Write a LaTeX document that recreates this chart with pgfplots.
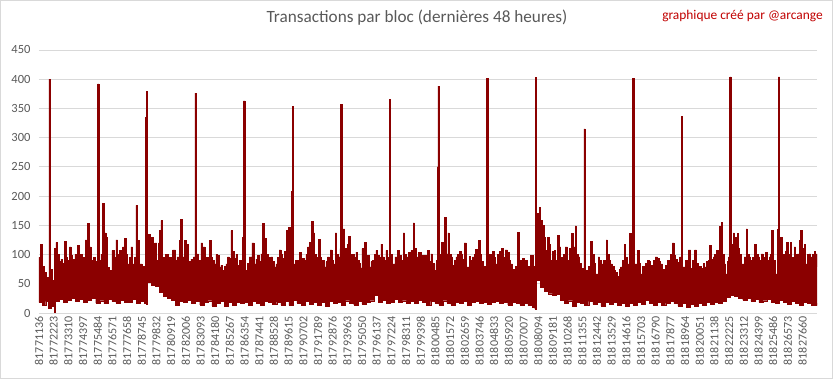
\documentclass[border=0pt]{standalone}
\usepackage{pgfplots}
\pgfplotsset{compat=1.18}
\usepackage{pgfplotstable}
\usepgfplotslibrary{fillbetween}
\usepackage{fontspec}
\setmainfont{Carlito}
\definecolor{barred}{RGB}{139,0,0}
\definecolor{txtgray}{RGB}{89,89,89}
\definecolor{gridgray}{RGB}{217,217,217}
\definecolor{notered}{RGB}{192,0,0}

\pgfplotstableread{
x y
0 95
99 117
222 80
370 70
518 61
666 60
740 400
840 75
1012 56
1135 110
1258 121
1382 100
1505 88
1628 92
1752 85
1875 122
1998 95
2122 90
2245 113
2368 98
2492 92
2664 100
2862 115
2985 100
3182 88
3306 95
3429 125
3528 110
3602 153
3725 113
3848 90
4021 95
4169 88
4340 392
4440 90
4589 100
4712 188
4835 137
4958 130
5082 78
5205 73
5403 107
5575 95
5699 125
5822 100
5945 107
6069 95
6192 113
6315 127
6439 100
6562 84
6686 95
6809 113
6932 84
7056 95
7179 184
7302 124
7425 84
7623 80
7796 67
7890 335
7940 379
8040 135
8215 120
8338 130
8462 113
8560 120
8708 90
8832 120
8930 141
9029 158
9153 95
9350 100
9595 95
9768 88
9891 108
10089 90
10212 96
10385 124
10459 160
10582 96
10755 124
10928 118
11076 88
11248 92
11421 96
11540 376
11640 101
11800 90
11988 120
12112 113
12284 84
12408 95
12605 124
12728 95
12852 90
12975 84
13099 100
13222 98
13345 79
13469 82
13592 73
13715 80
13839 84
13962 96
14085 93
14209 141
14332 105
14455 93
14579 100
14702 81
14825 90
14949 79
15072 130
15140 363
15240 73
15442 85
15565 96
15763 120
15936 84
16059 92
16182 99
16306 88
16429 101
16552 153
16651 110
16725 127
16848 100
16996 95
17169 96
17292 88
17416 79
17539 84
17662 95
17786 108
17909 100
18032 93
18180 105
18328 141
18476 147
18575 130
18640 90
18680 208
18740 354
18840 84
19000 90
19142 90
19265 103
19388 88
19511 93
19635 90
19758 100
19881 113
20005 121
20153 157
20301 137
20400 100
20498 84
20597 95
20696 126
20794 95
20868 84
20992 90
21115 79
21238 88
21362 96
21485 92
21559 108
21682 90
21806 84
21929 137
22028 100
22126 96
22274 110
22340 357
22440 100
22521 144
22620 110
22718 104
22842 118
22916 131
23015 100
23113 90
23212 100
23335 95
23459 104
23582 90
23705 85
23804 77
23903 110
24075 121
24199 98
24322 99
24445 79
24569 88
24692 90
24815 100
24939 107
25062 99
25185 95
25309 118
25432 96
25555 90
25679 107
25802 95
25940 365
26040 100
26172 84
26345 96
26542 107
26666 98
26789 90
26962 137
27060 100
27159 96
27356 104
27529 107
27628 100
27702 154
27800 110
27899 96
28096 104
28269 90
28392 98
28516 99
28639 90
28761 107
28885 88
29008 101
29131 85
29255 73
29378 84
29430 90
29480 250
29540 388
29640 100
29797 121
29896 95
29995 164
30118 101
30266 137
30365 100
30488 96
30612 81
30735 90
30858 96
30982 100
31105 105
31228 101
31352 92
31475 120
31648 79
31845 97
31968 90
32092 96
32215 100
32338 109
32511 124
32635 100
32758 88
32881 80
33005 62
33140 402
33240 100
33449 92
33572 105
33695 95
33819 84
33942 100
34065 105
34263 110
34386 95
34509 108
34682 104
34805 90
34929 84
35052 75
35175 67
35299 80
35422 138
35595 90
35792 93
35916 85
36039 90
36162 80
36286 67
36409 99
36582 73
36680 80
36740 403
36840 170
37026 181
37149 158
37273 150
37396 130
37519 107
37643 130
37766 118
37889 90
38013 105
38136 107
38259 90
38381 133
38505 113
38628 95
38751 84
38850 100
38949 113
39121 90
39245 110
39393 136
39541 113
39689 149
39787 100
39911 96
40034 85
40158 76
40340 315
40440 73
40651 80
40725 67
40848 122
40972 100
41095 85
41218 67
41391 96
41514 90
41638 84
41786 90
41983 125
42082 100
42205 90
42329 84
42452 80
42575 73
42699 70
42822 62
42945 75
43069 79
43192 90
43315 118
43439 95
43562 84
43735 136
43858 76
43940 401
44040 84
44302 107
44425 85
44549 67
44672 80
44795 62
44919 85
45042 90
45165 88
45289 81
45461 90
45609 96
45782 93
45906 88
46029 84
46152 75
46276 67
46399 81
46522 90
46646 87
46769 100
46892 120
47016 99
47139 92
47262 87
47435 96
47540 336
47640 79
47879 90
48075 108
48248 76
48371 90
48544 108
48667 85
48791 73
48914 80
49037 76
49161 85
49284 79
49407 88
49531 90
49654 115
49778 92
49901 96
50024 100
50148 107
50345 148
50419 100
50493 155
50592 100
50715 84
50838 67
50962 88
51036 96
51140 404
51240 118
51406 137
51480 110
51529 130
51628 105
51702 136
51801 110
51875 100
52022 84
52195 96
52343 144
52442 100
52565 96
52689 90
52812 95
52985 117
53108 100
53231 96
53355 90
53478 101
53601 84
53725 95
53799 104
53922 90
54045 96
54169 100
54243 141
54366 90
54539 67
54687 143
54740 404
54840 130
55032 100
55156 90
55279 105
55353 121
55476 100
55600 121
55723 95
55822 84
55896 113
56019 100
56142 101
56266 124
56389 141
56512 110
56636 118
56759 84
56882 100
57006 101
57129 96
57252 100
57376 105
57499 101
57600 79
}\hidata

\pgfplotstableread{
x y
0 18
250 14
500 20
700 8
900 12
1150 0
1200 20
1500 24
1800 18
2100 22
2400 25
2700 20
3000 24
3300 19
3600 22
3900 25
4200 17
4500 21
4800 16
5100 23
5400 20
5700 17
6000 22
6300 19
6600 18
6900 23
7200 17
7500 20
7800 16
7950 15
8000 52
8300 48
8600 45
8900 35
9200 28
9500 25
9800 22
10100 13
10400 20
10700 18
11000 22
11300 17
11600 20
11900 14
12200 19
12500 21
12800 12
13100 17
13400 20
13700 12
14000 18
14300 14
14600 19
14900 16
15200 18
15500 13
15800 20
16100 17
16400 14
16700 20
17000 18
17300 15
17600 19
17900 14
18200 20
18500 13
18800 22
19100 17
19400 13
19700 20
20000 15
20300 19
20600 13
20900 18
21200 12
21500 20
21800 16
22100 19
22400 14
22700 21
23000 17
23300 14
23600 20
23900 15
24200 18
24500 21
24800 30
25100 18
25400 22
25700 17
26000 19
26300 24
26600 18
26900 21
27200 16
27500 20
27800 17
28100 22
28400 18
28700 13
29000 20
29300 17
29600 14
29900 21
30200 17
30500 14
30800 19
31100 16
31400 20
31700 14
32000 18
32300 20
32600 16
32900 19
33200 15
33500 18
33800 20
34100 16
34400 18
34700 14
35000 19
35300 17
35600 14
35900 16
36200 13
36500 10
36700 7
36800 56
37100 44
37400 38
37700 33
38000 30
38300 32
38600 22
38900 16
39200 21
39500 12
39800 19
40100 16
40400 13
40700 20
41000 15
41300 18
41600 12
41900 19
42200 15
42500 18
42800 13
43100 17
43400 12
43700 17
44000 14
44300 19
44600 15
44900 22
45200 17
45500 14
45800 19
46100 13
46400 17
46700 20
47000 16
47300 12
47600 17
47900 10
48200 15
48500 12
48800 17
49100 13
49400 18
49700 15
50000 19
50300 16
50600 20
50900 27
51200 30
51500 28
51800 25
52100 22
52400 26
52700 20
53000 23
53300 18
53600 21
53900 24
54200 19
54500 17
54800 22
55100 18
55400 15
55700 20
56000 17
56300 14
56600 19
56900 16
57200 13
57600 17
}\lodata

\begin{document}
\begin{tikzpicture}
\begin{axis}[
  at={(0pt,0pt)}, anchor=south west,
  scale only axis, width=778pt, height=263pt,
  xmin=0, xmax=57600, ymin=0, ymax=450,
  ytick={0,50,...,450},
  scaled x ticks=false, scaled y ticks=false,
  xtick={0,1087,...,56524},
  xticklabels={81771136,81772223,81773310,81774397,81775484,81776571,81777658,81778745,81779832,81780919,81782006,81783093,81784180,81785267,81786354,81787441,81788528,81789615,81790702,81791789,81792876,81793963,81795050,81796137,81797224,81798311,81799398,81800485,81801572,81802659,81803746,81804833,81805920,81807007,81808094,81809181,81810268,81811355,81812442,81813529,81814616,81815703,81816790,81817877,81818964,81820051,81821138,81822225,81823312,81824399,81825486,81826573,81827660},
  xticklabel style={rotate=90, anchor=east, font=\fontsize{12}{12}\selectfont, text=txtgray},
  yticklabel style={anchor=east, xshift=-5pt, font=\fontsize{12.5}{12.5}\selectfont, text=txtgray},
  /pgf/number format/assume math mode=true,
  axis line style={draw=none},
  major tick length=0pt,
  ymajorgrids, grid style={gridgray, line width=0.75pt},
]
\addplot[name path=hi, const plot, barred, line width=0.6pt] table {\hidata};
\addplot[name path=lo, const plot, barred, line width=0.4pt] table {\lodata};
\addplot[barred] fill between[of=hi and lo];
\end{axis}
\node[text=txtgray, font=\fontsize{17.2}{19}\selectfont] at (378pt,295pt) {Transactions par bloc (dernières 48 heures)};
\node[text=notered, font=\fontsize{13.4}{15}\selectfont] at (703.5pt,297pt) {graphique créé par @arcange};
\pgfresetboundingbox
\path[use as bounding box, draw=gridgray, line width=0.75pt] (-38.6pt,-65.6pt) rectangle (793.6pt,312.6pt);
\end{tikzpicture}
\end{document}
